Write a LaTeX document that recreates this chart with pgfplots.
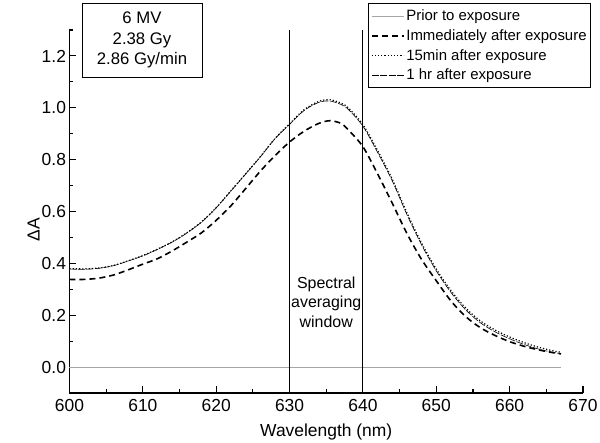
\documentclass[border=0pt]{standalone}
\usepackage{fontspec}
\setmainfont{Liberation Sans}
\usepackage{pgfplots}
\usepackage{pgfplotstable}
\pgfplotsset{compat=1.18}

% wavelength, immediately, 15 min, 1 hr
\pgfplotstableread{
wl    imm   mq    hr
600   0.338 0.380 0.378
602   0.338 0.379 0.377
604   0.343 0.382 0.381
606   0.355 0.392 0.391
608   0.375 0.410 0.409
610   0.397 0.430 0.429
612   0.418 0.455 0.454
614   0.448 0.483 0.482
616   0.482 0.518 0.517
618   0.518 0.560 0.559
620   0.566 0.615 0.614
622   0.622 0.680 0.679
624   0.688 0.745 0.744
626   0.755 0.811 0.810
628   0.815 0.881 0.880
630   0.868 0.938 0.936
632   0.910 0.993 0.990
634   0.940 1.025 1.021
635.5 0.950 1.031 1.026
637   0.940 1.018 1.013
638   0.915 1.000 0.994
640   0.850 0.935 0.929
642   0.745 0.835 0.828
644   0.632 0.725 0.718
646   0.515 0.595 0.588
648   0.415 0.478 0.471
650   0.333 0.378 0.371
652   0.255 0.295 0.288
654   0.195 0.228 0.221
656   0.152 0.178 0.171
658   0.122 0.143 0.136
660   0.098 0.116 0.109
662   0.080 0.094 0.087
664   0.066 0.076 0.069
666   0.055 0.062 0.056
667   0.051 0.057 0.052
}\spectra

\begin{document}
\begin{tikzpicture}
\begin{axis}[
    scale only axis,
    width=513.5bp, height=363bp,
    xmin=600, xmax=670,
    ymin=-0.1, ymax=1.3,
    axis lines=left,
    axis line style={-, line width=1.3bp},
    xtick={600,610,...,670},
    ytick={0,0.2,...,1.2},
    minor xtick={605,615,...,665},
    minor ytick={-0.1,0.1,0.3,0.5,0.7,0.9,1.1,1.3},
    tick align=inside,
    major tick length=6.5bp,
    minor tick length=3.5bp,
    tick style={line width=1.1bp, black},
    /pgf/number format/assume math mode=true,
    y tick label style={/pgf/number format/.cd, fixed, fixed zerofill, precision=1},
    x tick label style={yshift=-3bp, /pgf/number format/1000 sep={}},
    tick label style={font=\fontsize{17.5}{20}\selectfont},
    label style={font=\fontsize{17.5}{20}\selectfont},
    xlabel={Wavelength (nm)},
    xlabel style={at={(axis description cs:0.5,-0.1074)}, anchor=center},
    ylabel={ΔA},
    ylabel style={at={(axis description cs:-0.07,0.45)}, anchor=center},
    clip=false,
    legend image code/.code={\draw[#1] (0bp,0bp) -- (32bp,0bp);},
    legend style={at={(rel axis cs:1.0156,1.0744)}, anchor=north east,
        draw=black, line width=0.8bp, font=\fontsize{15}{17}\selectfont,
        cells={anchor=west}, row sep=3.4bp, inner xsep=2bp, inner ysep=4.5bp},
]
\addplot[gray!70, line width=0.6bp] coordinates {(600,0) (667,0)};
\addlegendentry{Prior to exposure}
\addplot[black, line width=1.6bp, dash pattern=on 6bp off 4bp, smooth] table[x=wl, y=imm] {\spectra};
\addlegendentry{Immediately after exposure}
\addplot[black, line width=1.2bp, dash pattern=on 1.2bp off 2bp, smooth] table[x=wl, y=mq] {\spectra};
\addlegendentry{15min after exposure}
\addplot[black, line width=0.6bp, dash pattern=on 7bp off 1.5bp, smooth] table[x=wl, y=hr] {\spectra};
\addlegendentry{1 hr after exposure}

\addplot[black, line width=1.1bp, forget plot] coordinates {(630,-0.1) (630,1.3)};
\addplot[black, line width=1.1bp, forget plot] coordinates {(640,-0.1) (640,1.3)};

\node[align=center, font=\fontsize{16}{20}\selectfont] at (axis cs:635,0.25) {Spectral\\averaging\\window};
\node[draw, line width=0.9bp, align=center, minimum width=120bp, minimum height=74bp,
      inner sep=0pt, font=\fontsize{16.8}{20.5}\selectfont] at (rel axis cs:0.1412,0.9725)
      {6 MV\\2.38 Gy\\2.86 Gy/min};
\end{axis}
\pgfresetboundingbox
\path ([shift={(-69.5bp,-50bp)}]current axis.south west) rectangle ++(600bp,443bp);
\end{tikzpicture}
\end{document}
